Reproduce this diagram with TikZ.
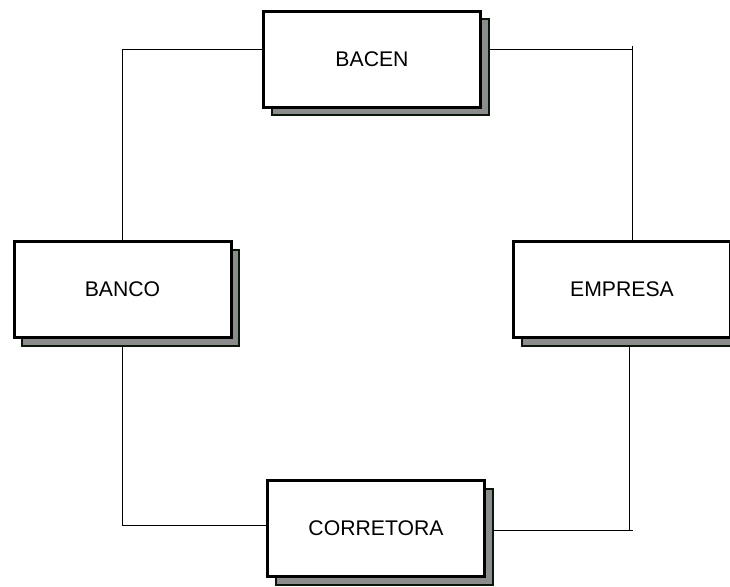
\documentclass[tikz,border=0pt]{standalone}
\usepackage{fontspec}
\setmainfont{Liberation Sans}
\usetikzlibrary{shadows,backgrounds}
\definecolor{Shade}{HTML}{8C8C8C}
\definecolor{Edge}{HTML}{0B160B}

\begin{document}
\begin{tikzpicture}[x=0.5pt,y=-0.5pt,
box/.style={draw=black,line width=1.5pt,fill=white,minimum width=108.5pt,minimum height=48pt,
  font=\fontsize{10.6}{12}\selectfont,
  general shadow={fill=Shade,draw=Edge,line width=1pt,shadow xshift=4pt,shadow yshift=-4.2pt}},
link/.style={line width=0.5pt,draw=black}]
\useasboundingbox (0,0) rectangle (730,586);
\clip (0,0) rectangle (730,586);
\node[box](bacen) at (372,59){BACEN};
\node[box](banco) at (122.5,289.5){BANCO};
\node[box](empresa) at (622,289.5){EMPRESA};
\node[box](corretora) at (376,528.5){CORRETORA};
\coordinate (tick) at (632,46);
\coordinate (corner) at (633,530);
\begin{scope}[on background layer]
\draw[link]([yshift=5pt]bacen.west) -| (banco.north);
\draw[link]([yshift=1.75pt]corretora.west) -| (banco.south);
\draw[link]([yshift=5pt]bacen.east) -- ([yshift=5pt]bacen.east -| tick);
\draw[link](tick) -- (tick |- empresa.north);
\draw[link]([yshift=-0.75pt]corretora.east) -- ([yshift=-0.75pt]corretora.east -| corner);
\draw[link]([xshift=3.5pt]empresa.south) |- (corner);
\end{scope}
\end{tikzpicture}
\end{document}
